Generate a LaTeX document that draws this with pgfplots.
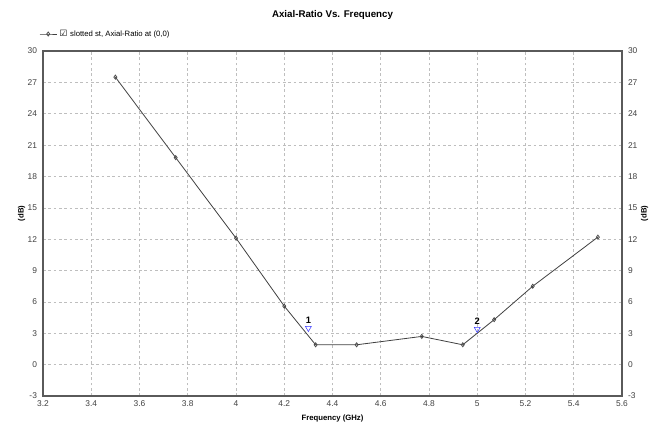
\documentclass[border=0pt]{standalone}
\usepackage{pgfplots}
\pgfplotsset{compat=1.18}
\usetikzlibrary{calc}
\usepackage{fontspec}
\setmainfont{Liberation Sans}
\newfontfamily\dejavu{DejaVu Sans}
\definecolor{gridgray}{RGB}{190,190,190}
\definecolor{axgray}{RGB}{90,90,90}
\definecolor{mkblue}{RGB}{60,60,255}
\begin{document}
\begin{tikzpicture}
\pgfplotsset{
  common/.style={
    at={(0,0)}, anchor=south west,
    scale only axis, width=434.25pt, height=258.75pt,
    xmin=3.2, xmax=5.6, ymin=-3, ymax=30,
    ytick={-3,0,...,30},
    major tick length=0pt,
    axis line style={axgray, line width=0.8pt},
    tick label style={font=\fontsize{6.3}{7}\selectfont, text=black!75},
    /pgf/number format/assume math mode=true,
  }
}
\begin{axis}[common, name=ax,
  xtick={3.2,3.4,...,5.61},
  xticklabel style={/pgf/number format/fixed, /pgf/number format/precision=1},
  grid=major,
  major grid style={gridgray, dash pattern=on 2pt off 2pt, line width=0.4pt},
  xlabel={\bfseries Frequency (GHz)},
  xlabel style={font=\fontsize{5.8}{7}\selectfont, yshift=1pt},
  yticklabel style={xshift=-1pt},
  legend style={draw=none, fill=none, inner sep=0pt, font=\fontsize{5.8}{7}\selectfont,
    at={(0,1)}, anchor=west, yshift=12.75pt, xshift=-3pt,
    legend cell align=left},
  legend image code/.code={\draw[mark repeat=2, mark phase=2, #1] plot coordinates {(0pt,0pt) (6.4pt,0pt) (12.75pt,0pt)};},
  clip=false,
]
\addplot[black!75, line width=0.6pt, mark=diamond, mark size=1.5pt, mark options={solid, draw=black!70, fill=white}]
  coordinates {
  (3.50,27.5) (3.75,19.8) (4.00,12.1) (4.20,5.6) (4.33,1.9) (4.50,1.9)
  (4.77,2.7) (4.94,1.9) (5.07,4.3) (5.23,7.5) (5.50,12.2)
  };
\addlegendentry{{\dejavu\fontsize{6.5}{7}\selectfont ☑}\hspace{2pt}slotted st, Axial-Ratio at (0,0)}
\addplot[only marks, mark=triangle, mark size=2.6pt, mark options={rotate=180, draw=mkblue, fill=mkblue!20},
  nodes near coords, point meta=explicit symbolic,
  every node near coord/.append style={font=\bfseries\fontsize{7}{8}\selectfont, text=black, yshift=0pt}, forget plot]
  coordinates {(4.30,3.5)[1] (5.00,3.4)[2]};
\end{axis}
\begin{axis}[common,
  axis y line*=right, axis x line=none,
  yticklabel style={xshift=1pt},
]
\addplot[draw=none] coordinates {(3.2,0)};
\end{axis}
\node[font=\bfseries\fontsize{7.3}{9}\selectfont] at ($(ax.north)+(0,27pt)$) {Axial-Ratio Vs. Frequency};
\node[font=\bfseries\fontsize{5.8}{7}\selectfont, rotate=90] at ($(ax.west)+(-16pt,7.5pt)$) {(dB)};
\node[font=\bfseries\fontsize{5.8}{7}\selectfont, rotate=90] at ($(ax.east)+(17pt,7.5pt)$) {(dB)};
\path (ax.south west) ++(-32.25pt,-25.5pt) rectangle ++(491.25pt,322.5pt);
\end{tikzpicture}
\end{document}
